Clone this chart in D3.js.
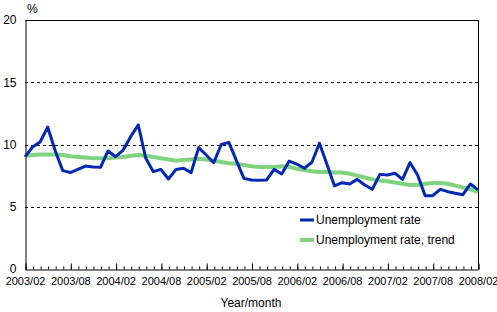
<!DOCTYPE html>
<html>
<head>
<meta charset="utf-8">
<script src="https://cdn.jsdelivr.net/npm/d3@7"></script>
<style>
  html, body { margin: 0; padding: 0; background: #fff; }
  svg { display: block; font-family: Arial, "Liberation Sans", sans-serif; }
</style>
</head>
<body>
<div id="chart"></div>
<script>
// months 2003/02 .. 2008/02
const months = d3.timeMonth.range(new Date(2003, 1, 1), new Date(2008, 2, 1)).map(d3.timeFormat('%Y/%m'));
const tickLabels = ['2003/02', '2003/08', '2004/02', '2004/08', '2005/02', '2005/08',
  '2006/02', '2006/08', '2007/02', '2007/08', '2008/02'];
const yTicks = [0, 5, 10, 15, 20];

const rate = [9.0, 9.8, 10.2, 11.4, 9.5, 7.9, 7.75, 8.0, 8.27, 8.2, 8.17, 9.48, 9.02,
  9.55, 10.63, 11.57, 8.89, 7.82, 8.0, 7.23, 8.0, 8.09, 7.74, 9.75, 9.16, 8.54, 10.0,
  10.17, 8.7, 7.28, 7.15, 7.12, 7.15, 8.0, 7.63, 8.67, 8.43, 8.09, 8.57, 10.1, 8.4,
  6.67, 6.93, 6.83, 7.2, 6.75, 6.4, 7.6, 7.55, 7.69, 7.2, 8.54, 7.55, 5.89, 5.89, 6.4,
  6.21, 6.08, 5.97, 6.83, 6.35];
const trend = [9.05, 9.15, 9.2, 9.2, 9.2, 9.15, 9.05, 9.0, 8.95, 8.9, 8.9, 8.9, 8.95,
  9.0, 9.1, 9.15, 9.1, 9.0, 8.9, 8.8, 8.7, 8.75, 8.8, 8.85, 8.8, 8.7, 8.6, 8.5, 8.45,
  8.35, 8.25, 8.2, 8.2, 8.2, 8.25, 8.2, 8.05, 7.95, 7.85, 7.8, 7.8, 7.75, 7.75, 7.65,
  7.5, 7.35, 7.2, 7.1, 7.05, 6.95, 6.85, 6.75, 6.75, 6.85, 6.9, 6.9, 6.85, 6.7, 6.55,
  6.4, 6.2];

const series = [
  { name: 'Unemployment rate, trend', values: trend, color: '#7fd37f', width: 4 },
  { name: 'Unemployment rate', values: rate, color: '#0028b4', width: 3 }
];

const W = 497, H = 312;
const m = { left: 25, right: 478, top: 20, bottom: 269 };

const svg = d3.select('#chart').append('svg')
  .attr('width', W).attr('height', H);

const x = d3.scalePoint().domain(months).range([m.left, m.right]);
const y = d3.scaleLinear().domain([0, 20]).range([m.bottom, m.top]);

// dashed grid
svg.append('g')
  .selectAll('line')
  .data(yTicks.filter(d => d > 0 && d < 20))
  .enter().append('line')
  .attr('x1', m.left).attr('x2', m.right)
  .attr('y1', d => Math.round(y(d)) + 0.5).attr('y2', d => Math.round(y(d)) + 0.5)
  .attr('stroke', '#000').attr('stroke-dasharray', '3,3');

// frame (top + right)
svg.append('path')
  .attr('d', `M${m.left},${m.top + 0.5}H${m.right + 0.5}V${m.bottom}`)
  .attr('fill', 'none').attr('stroke', '#000');

// y axis
const yAxis = svg.append('g')
  .attr('transform', `translate(${m.left + 0.5},0)`)
  .call(d3.axisLeft(y).tickValues(yTicks).tickSize(0).tickPadding(9));
yAxis.select('.domain').attr('stroke', '#000');
yAxis.selectAll('text').attr('font-size', 12).attr('fill', '#000');

// x axis: monthly minor ticks, half-yearly major ticks (pointing inward)
const xMinor = svg.append('g')
  .attr('transform', `translate(0,${m.bottom + 0.5})`)
  .call(d3.axisBottom(x).tickSizeInner(-3).tickSizeOuter(0).tickFormat(''));
xMinor.select('.domain').attr('stroke', '#000');
xMinor.selectAll('.tick line').attr('transform', 'translate(0.5,0)');

const xMajor = svg.append('g')
  .attr('transform', `translate(0,${m.bottom + 0.5})`)
  .call(d3.axisBottom(x).tickValues(tickLabels).tickSizeInner(-6).tickSizeOuter(0).tickPadding(8));
xMajor.select('.domain').remove();
xMajor.selectAll('.tick line').attr('transform', 'translate(0.5,0)');
xMajor.selectAll('text').attr('font-size', 11).attr('fill', '#000');

// lines
const line = d3.line()
  .x((d, i) => x(months[i]))
  .y(d => y(d));

svg.selectAll('path.series')
  .data(series)
  .enter().append('path')
  .attr('class', 'series')
  .attr('d', d => line(d.values))
  .attr('fill', 'none')
  .attr('stroke', d => d.color)
  .attr('stroke-width', d => d.width)
  .attr('stroke-linejoin', 'round');

// legend
const legend = svg.append('g');
const legendItems = series.slice().reverse();
legendItems.forEach((s, i) => {
  const ly = 220 + i * 20;
  legend.append('line')
    .attr('x1', 300).attr('x2', 314).attr('y1', ly).attr('y2', ly)
    .attr('stroke', s.color).attr('stroke-width', s.width);
  legend.append('text')
    .attr('x', 316).attr('y', ly).attr('dy', '0.35em')
    .attr('font-size', 12)
    .text(s.name);
});

// axis titles
svg.append('text').attr('x', 27).attr('y', 13).attr('font-size', 12).text('%');
svg.append('text').attr('x', 251).attr('y', 306.5).attr('text-anchor', 'middle')
  .attr('font-size', 12).text('Year/month');
</script>
</body>
</html>
